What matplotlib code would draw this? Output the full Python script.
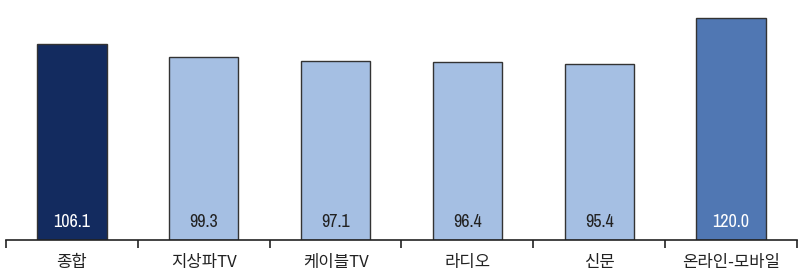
import matplotlib
matplotlib.use('Agg')
from matplotlib import pyplot as plt
from matplotlib import font_manager
import numpy as np

categories = ['종합', '지상파TV', '케이블TV', '라디오', '신문', '온라인-모바일']
values = [106.1, 99.3, 97.1, 96.4, 95.4, 120.0]
bar_colors = ['#132b5f', '#a5bfe3', '#a5bfe3', '#a5bfe3', '#a5bfe3', '#5077b3']
label_colors = ['white', '#222222', '#222222', '#222222', '#222222', 'white']

plt.rcParams['font.family'] = ['Noto Sans CJK KR', 'DejaVu Sans']

# narrow regular face for the numbers, if one is around
narrow = None
cands = [f for f in font_manager.fontManager.ttflist
         if ('Narrow' in f.name or 'Condensed' in f.fname)
         and f.weight in (400, 'normal', 'regular') and f.style == 'normal'
         and 'Bold' not in f.fname]
cands.sort(key=lambda f: 'Narrow' not in f.name)
if cands:
    narrow = cands[0].fname
num_font = font_manager.FontProperties(fname=narrow, size=13) if narrow else \
    font_manager.FontProperties(family='DejaVu Sans', size=12)

fig = plt.figure(figsize=(8, 2.77), dpi=100)
ax = fig.add_axes([0.0075, 0.1336, 0.98875, 0.8664])

x = np.arange(len(categories))
ax.bar(x, values, 0.525, color=bar_colors, edgecolor='#333333', linewidth=1.0, zorder=2)

for xi, v, c in zip(x, values, label_colors):
    ax.text(xi, 9.7, f'{v:.1f}', ha='center', va='center', fontproperties=num_font,
            color=c, zorder=3)

ax.set_xlim(-0.5, len(categories) - 0.5)
ax.set_ylim(0, 130)

for s in ['top', 'right', 'left']:
    ax.spines[s].set_visible(False)
ax.spines['bottom'].set_color('#222222')
ax.spines['bottom'].set_linewidth(1.2)
ax.set_yticks([])

# ticks at category boundaries, labels at centres
ax.set_xticks(np.arange(len(categories) + 1) - 0.5)
ax.set_xticklabels([])
ax.tick_params(axis='x', which='major', length=6, width=1.2, color='#222222', direction='out')
ax.set_xticks(x, minor=True)
ax.set_xticklabels(categories, minor=True, fontsize=12, color='#222222')
ax.tick_params(axis='x', which='minor', length=0, pad=10)

fig.savefig('out.png', dpi=100)
